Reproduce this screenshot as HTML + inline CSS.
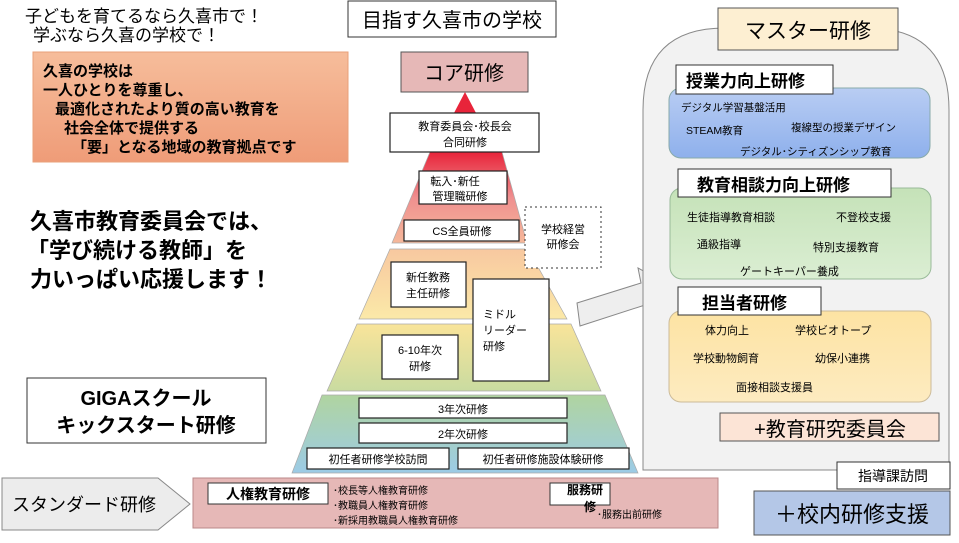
<!DOCTYPE html>
<html><head><meta charset="utf-8"><style>
body{margin:0;width:959px;height:538px;background:#fff;overflow:hidden;font-family:"Liberation Sans","Noto Sans CJK JP",sans-serif;}
svg text{font-family:"Liberation Sans","Noto Sans CJK JP",sans-serif;}
</style></head><body>
<svg width="959" height="538" viewBox="0 0 959 538" xmlns="http://www.w3.org/2000/svg">
<defs>
<linearGradient id="t1" x1="0" y1="0" x2="0" y2="1"><stop offset="0" stop-color="#e8243a"/><stop offset="0.5" stop-color="#ef8f8f"/><stop offset="1" stop-color="#f5b89a"/></linearGradient>
<linearGradient id="t2" x1="0" y1="0" x2="0" y2="1"><stop offset="0" stop-color="#f8c8a0"/><stop offset="1" stop-color="#fbe9a8"/></linearGradient>
<linearGradient id="t3" x1="0" y1="0" x2="0" y2="1"><stop offset="0" stop-color="#f9e49a"/><stop offset="1" stop-color="#c9dba0"/></linearGradient>
<linearGradient id="t4" x1="0" y1="0" x2="0" y2="1"><stop offset="0" stop-color="#b0d4a0"/><stop offset="1" stop-color="#9ccbe6"/></linearGradient>
<linearGradient id="or" x1="0" y1="0" x2="0" y2="1"><stop offset="0" stop-color="#f6bd9b"/><stop offset="1" stop-color="#ef9c78"/></linearGradient>
<linearGradient id="bl" x1="0" y1="0" x2="0" y2="1"><stop offset="0" stop-color="#b9cdf3"/><stop offset="1" stop-color="#8eb0ec"/></linearGradient>
<linearGradient id="gr" x1="0" y1="0" x2="0" y2="1"><stop offset="0" stop-color="#c5e2b8"/><stop offset="1" stop-color="#dbeed3"/></linearGradient>
<linearGradient id="ye" x1="0" y1="0" x2="0" y2="1"><stop offset="0" stop-color="#fde3a3"/><stop offset="1" stop-color="#fdebc0"/></linearGradient>
</defs>

<text x="25" y="22" font-size="17">子どもを育てるなら久喜市で！</text>
<text x="33" y="41" font-size="17">学ぶなら久喜の学校で！</text>
<rect x="33" y="52" width="315" height="110" fill="url(#or)" stroke="#e8a07a"/>
<g font-size="15" font-weight="bold">
<text x="43" y="76">久喜の学校は</text>
<text x="43" y="95">一人ひとりを尊重し、</text>
<text x="55" y="114">最適化されたより質の高い教育を</text>
<text x="64" y="133">社会全体で提供する</text>
<text x="72" y="152">「要」となる地域の教育拠点です</text>
</g>
<g font-size="22" font-weight="bold">
<text x="30" y="229">久喜市教育委員会では、</text>
<text x="27" y="258">「学び続ける教師」を</text>
<text x="30" y="287">力いっぱい応援します！</text>
</g>
<rect x="27" y="378" width="239" height="65" fill="#fff" stroke="#333"/>
<text x="146" y="405" font-size="20" font-weight="bold" text-anchor="middle">GIGAスクール</text>
<text x="146" y="432" font-size="20" font-weight="bold" text-anchor="middle">キックスタート研修</text>

<rect x="348" y="1" width="208" height="36" fill="#fff" stroke="#333"/>
<text x="452" y="27" font-size="20" text-anchor="middle">目指す久喜市の学校</text>
<rect x="401" y="52" width="127" height="40" fill="#e6b8b7" stroke="#555"/>
<text x="464" y="80" font-size="20" text-anchor="middle">コア研修</text>

<polygon points="465,92 476,113 454,113" fill="#e8243a"/>
<polygon points="430,152 502,152 527,243 392,243" fill="url(#t1)" stroke="#aaa" stroke-width="0.7"/>
<polygon points="390,249 528,249 567,319 359,319" fill="url(#t2)" stroke="#aaa" stroke-width="0.7"/>
<polygon points="357,324 571,324 601,391 327,391" fill="url(#t3)" stroke="#aaa" stroke-width="0.7"/>
<polygon points="322,395 605,395 638,473 292,473" fill="url(#t4)" stroke="#aaa" stroke-width="0.7"/>
<g fill="#fff" stroke="#222" stroke-width="1.2">
<rect x="390" y="113" width="149" height="39"/>
<rect x="419" y="171" width="88" height="33"/>
<rect x="404" y="220" width="115" height="21"/>
<rect x="391" y="262" width="75" height="45"/>
<rect x="473" y="279" width="76" height="102"/>
<rect x="382" y="335" width="76" height="44"/>
<rect x="359" y="398" width="208" height="20"/>
<rect x="359" y="423" width="208" height="20"/>
<rect x="307" y="448" width="142" height="21"/>
<rect x="458" y="448" width="171" height="21"/>
</g>
<rect x="525" y="207" width="76" height="61" fill="#fff" stroke="#333" stroke-dasharray="2,3"/>
<g font-size="11" text-anchor="middle">
<text x="465" y="130">教育委員会･校長会</text><text x="465" y="146">合同研修</text>
<text x="455" y="185">転入･新任</text><text x="460" y="200">管理職研修</text>
<text x="462" y="235">CS全員研修</text>
<text x="563" y="233">学校経営</text><text x="563" y="248">研修会</text>
<text x="428" y="281">新任教務</text><text x="428" y="297">主任研修</text>
<text x="420" y="354">6-10年次</text><text x="420" y="370">研修</text>
<text x="463" y="413">3年次研修</text>
<text x="463" y="438">2年次研修</text>
<text x="378" y="463">初任者研修学校訪問</text>
<text x="543" y="463">初任者研修施設体験研修</text>
</g>
<g font-size="11"><text x="483" y="318">ミドル</text><text x="483" y="334">リーダー</text><text x="483" y="350">研修</text></g>

<polygon points="580,326 645,305 649,318 672,287 638,268 641,283 577,303" fill="#eee" stroke="#888"/>

<path d="M643,470 L643,110 Q643,28 725,28 L868,28 Q949,28 949,110 L949,470 Z" fill="#f2f2f2" stroke="#888"/>
<rect x="718" y="8" width="180" height="42" fill="#fdefd2" stroke="#555"/>
<text x="808" y="38" font-size="21" text-anchor="middle">マスター研修</text>

<rect x="669" y="88" width="261" height="70" rx="12" fill="url(#bl)" stroke="#8aa"/>
<rect x="676" y="65" width="157" height="29" fill="#fff" stroke="#333"/>
<text x="686" y="87" font-size="17" font-weight="bold">授業力向上研修</text>
<g font-size="10.5"><text x="681" y="111">デジタル学習基盤活用</text><text x="686" y="134">STEAM教育</text><text x="791" y="131">複線型の授業デザイン</text><text x="740" y="155">デジタル･シティズンシップ教育</text></g>

<rect x="670" y="188" width="261" height="91" rx="12" fill="url(#gr)" stroke="#9b9"/>
<rect x="678" y="169" width="213" height="28" fill="#fff" stroke="#333"/>
<text x="697" y="191" font-size="17" font-weight="bold">教育相談力向上研修</text>
<g font-size="11"><text x="687" y="221">生徒指導教育相談</text><text x="836" y="221">不登校支援</text><text x="697" y="248">通級指導</text><text x="813" y="251">特別支援教育</text><text x="740" y="275">ゲートキーパー養成</text></g>

<rect x="669" y="311" width="262" height="91" rx="12" fill="url(#ye)" stroke="#cb9"/>
<rect x="678" y="287" width="143" height="28" fill="#fff" stroke="#333"/>
<text x="702" y="309" font-size="17" font-weight="bold">担当者研修</text>
<g font-size="11"><text x="705" y="334">体力向上</text><text x="795" y="334">学校ビオトープ</text><text x="693" y="362">学校動物飼育</text><text x="815" y="362">幼保小連携</text><text x="736" y="391">面接相談支援員</text></g>

<rect x="720" y="413" width="219" height="28" fill="#fce4d6" stroke="#555"/>
<text x="830" y="436" font-size="20" text-anchor="middle">+教育研究委員会</text>
<rect x="837" y="462" width="113" height="27" fill="#fff" stroke="#333"/>
<text x="893" y="481" font-size="14" text-anchor="middle">指導課訪問</text>
<rect x="754" y="491" width="196" height="44" fill="#b4c7e7" stroke="#555"/>
<text x="852" y="522" font-size="22" text-anchor="middle">＋校内研修支援</text>

<polygon points="2,478 158,478 190,504 158,530 2,530" fill="#ececec" stroke="#888"/>
<text x="12" y="511" font-size="18">スタンダード研修</text>
<rect x="193" y="478" width="525" height="50" fill="#e6b8b7" stroke="#b88"/>
<rect x="208" y="483" width="120" height="21" fill="#fff" stroke="#333"/>
<text x="268" y="499" font-size="14" font-weight="bold" text-anchor="middle">人権教育研修</text>
<g font-size="10"><text x="333" y="494">･校長等人権教育研修</text><text x="333" y="509">･教職員人権教育研修</text><text x="333" y="524">･新採用教職員人権教育研修</text></g>
<rect x="550" y="483" width="60" height="22" fill="#fff" stroke="#333"/>
<text x="567" y="494" font-size="12" font-weight="bold">服務研</text>
<text x="584" y="511" font-size="12" font-weight="bold">修</text>
<text x="597" y="518" font-size="10">･服務出前研修</text>
</svg>
</body></html>
